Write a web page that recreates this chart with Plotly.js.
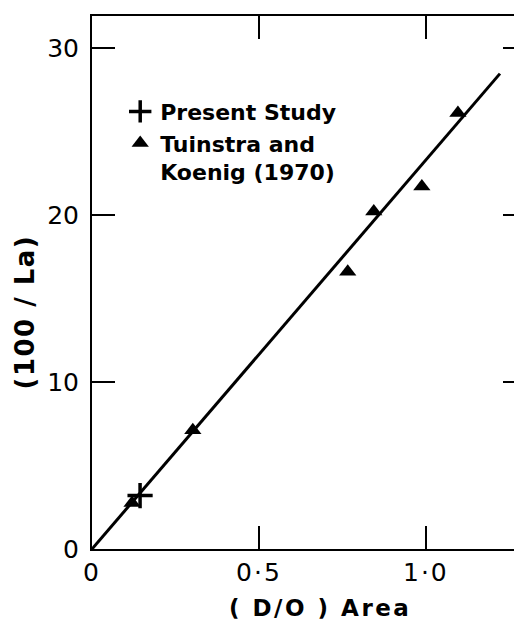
<!DOCTYPE html>
<html><head><meta charset="utf-8">
<script src="https://cdn.plot.ly/plotly-3.0.1.min.js"></script>
<style>html,body{margin:0;padding:0;overflow:hidden;background:#fff}</style>
</head><body>
<div id="chart"></div>
<script>
// Data
const presentX = [0.144];
const presentY = [3.2];
const tkX = [0.12, 0.302, 0.766, 0.844, 0.988, 1.096];
const tkY = [2.75, 7.1, 16.6, 20.2, 21.7, 26.1];
const fitX = [0, 1.222];
const fitY = [0, 28.45];
const xTickVals = [0, 0.5, 1.0];
const xTickText = ['0', '0·5', '1·0'];
const yTickVals = [0, 10, 20, 30];
const yTickText = ['0', '10', '20', '30'];

const F = 'DejaVu Sans, sans-serif';
const traces = [
  {x: fitX, y: fitY, mode: 'lines', line: {color: '#000', width: 3}, showlegend: false, hoverinfo: 'skip'},
  {x: presentX, y: presentY, mode: 'markers', name: 'Present Study',
   marker: {symbol: 'cross-thin', size: 18, line: {color: '#000', width: 3.5}, color: '#000'}},
  {x: tkX, y: tkY, mode: 'markers', name: 'Tuinstra and<br>Koenig (1970)',
   marker: {symbol: 'triangle-up', size: 15, color: '#000'}},
  // invisible trace to activate the top axis (mirror ticks)
  {x: fitX, y: fitY, xaxis: 'x2', mode: 'lines', line: {width: 0}, opacity: 0, showlegend: false, hoverinfo: 'skip'}
];
const axisCommon = {
  showgrid: false, zeroline: false, showline: true, linecolor: '#000', linewidth: 2,
  ticks: 'inside', ticklen: 23, tickwidth: 2, tickcolor: '#000',
  tickfont: {family: F, size: 25, color: '#000'}, tickmode: 'array'
};
const layout = {
  width: 530, height: 622,
  margin: {l: 92, r: 4, t: 16, b: 73},
  paper_bgcolor: '#fff', plot_bgcolor: '#fff',
  xaxis: Object.assign({}, axisCommon, {range: [0, 1.3], tickvals: xTickVals, ticktext: xTickText, mirror: false}),
  xaxis2: Object.assign({}, axisCommon, {range: [0, 1.3], tickvals: xTickVals, ticktext: xTickText,
            overlaying: 'x', side: 'top', showticklabels: false, mirror: false}),
  yaxis: Object.assign({}, axisCommon, {range: [0, 31.9], tickvals: yTickVals, ticktext: yTickText,
            mirror: 'ticks', ticklabelstandoff: 6}),
  showlegend: true,
  legend: {x: 0.065, y: 0.86, xanchor: 'left', yanchor: 'top', bgcolor: 'rgba(0,0,0,0)',
           font: {family: F, size: 22, color: '#000', weight: 'bold'}, valign: 'top',
           tracegroupgap: 0, itemwidth: 30},
  annotations: [
    {text: '( D/O ) Area', xref: 'paper', yref: 'paper', x: (320-92)/434, y: -(608-549)/533,
     xanchor: 'center', yanchor: 'middle', showarrow: false,
     font: {family: F, size: 23, color: '#000', weight: 'bold'}},
    {text: '(100 / La)', xref: 'paper', yref: 'paper', x: -(92-25)/434, y: (549-312)/533,
     xanchor: 'center', yanchor: 'middle', showarrow: false, textangle: -90,
     font: {family: F, size: 26, color: '#000', weight: 'bold'}}
  ]
};
Plotly.newPlot('chart', traces, layout, {displayModeBar: false, staticPlot: true}).then(function () {
  const t = document.querySelectorAll('.annotation-text');
  if (t[0]) t[0].style.letterSpacing = '2.5px';
  if (t[1]) t[1].style.letterSpacing = '1.5px';
  document.querySelectorAll('.xtick text').forEach(function (e) { e.style.letterSpacing = '2px'; });
});
</script>
</body></html>
